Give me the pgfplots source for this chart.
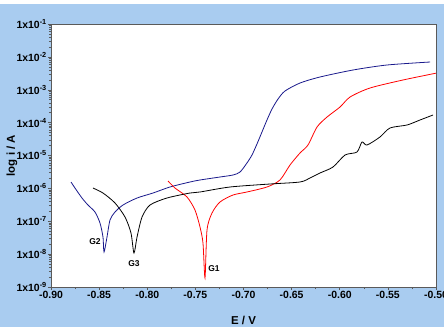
\documentclass[border=0pt]{standalone}
\usepackage{pgfplots}
\pgfplotsset{compat=1.18}
\usepackage{fontspec}
\setmainfont{Liberation Sans}
\definecolor{bgblue}{RGB}{169,204,240}
\definecolor{gblue}{RGB}{25,25,140}
\definecolor{frame}{RGB}{90,90,90}
\begin{document}
\begin{tikzpicture}
\fill[white] (-51bp,-40bp) rectangle (393bp,287bp);
\fill[bgblue] (-51bp,-40bp) rectangle (393bp,283bp);
\begin{axis}[
  at={(0,0)}, anchor=south west,
  scale only axis, width=385bp, height=263bp,
  xmin=-0.90, xmax=-0.50, ymin=-9, ymax=-1,
  axis background/.style={fill=white},
  axis line style={frame, line width=0.8pt},
  tick align=outside, xtick pos=bottom, ytick pos=left,
  major tick length=3bp, minor tick length=2bp,
  every tick/.style={frame, line width=0.5pt},
  xtick={-0.90,-0.85,...,-0.50},
  minor xtick={-0.875,-0.825,-0.775,-0.725,-0.675,-0.625,-0.575,-0.525},
  ytick={-9,-8,...,-1},
  yticklabels={1x10\textsuperscript{-9},1x10\textsuperscript{-8},1x10\textsuperscript{-7},1x10\textsuperscript{-6},1x10\textsuperscript{-5},1x10\textsuperscript{-4},1x10\textsuperscript{-3},1x10\textsuperscript{-2},1x10\textsuperscript{-1}},
  minor ytick={-8.699,-8.523,-8.398,-8.301,-8.222,-8.155,-8.097,-8.046,
               -7.699,-7.523,-7.398,-7.301,-7.222,-7.155,-7.097,-7.046,
               -6.699,-6.523,-6.398,-6.301,-6.222,-6.155,-6.097,-6.046,
               -5.699,-5.523,-5.398,-5.301,-5.222,-5.155,-5.097,-5.046,
               -4.699,-4.523,-4.398,-4.301,-4.222,-4.155,-4.097,-4.046,
               -3.699,-3.523,-3.398,-3.301,-3.222,-3.155,-3.097,-3.046,
               -2.699,-2.523,-2.398,-2.301,-2.222,-2.155,-2.097,-2.046,
               -1.699,-1.523,-1.398,-1.301,-1.222,-1.155,-1.097,-1.046},
  /pgf/number format/assume math mode=true,
  xticklabel style={/pgf/number format/fixed, /pgf/number format/fixed zerofill, /pgf/number format/precision=2, font=\fontsize{10.5}{12}\selectfont\bfseries, inner sep=1.5pt},
  yticklabel style={font=\fontsize{10.5}{12}\selectfont\bfseries, inner sep=1pt},
  xlabel={E / V}, ylabel={log i / A},
  xlabel style={at={(axis description cs:0.5,-0.1255)}, anchor=center, font=\fontsize{11.5}{13}\selectfont\bfseries},
  ylabel style={at={(axis description cs:-0.1013,0.5)}, anchor=center, font=\fontsize{11.5}{13}\selectfont\bfseries},
  clip=true,
]
% G2 (blue)
\addplot[gblue, line width=0.8pt, smooth, tension=0.45] coordinates {
(-0.8792,-5.806) (-0.8751,-5.989) (-0.8678,-6.293) (-0.8616,-6.506) (-0.8543,-6.719)
(-0.8491,-7.053) (-0.8460,-7.479) (-0.8449,-7.935) (-0.8418,-7.479) (-0.8387,-6.962)
(-0.8335,-6.719) (-0.8252,-6.506) (-0.8106,-6.293) (-0.7940,-6.141) (-0.7764,-5.958)
(-0.7556,-5.806) (-0.7452,-5.745) (-0.7244,-5.654) (-0.7109,-5.593) (-0.7036,-5.502)
(-0.6964,-5.228) (-0.6912,-4.985) (-0.6860,-4.650) (-0.6808,-4.285) (-0.6756,-3.920)
(-0.6704,-3.586) (-0.6641,-3.281) (-0.6569,-3.038)
(-0.6413,-2.795) (-0.6205,-2.612) (-0.5862,-2.399) (-0.5509,-2.247) (-0.5062,-2.156)
};
% G1 (red)
\addplot[red, line width=0.8pt, smooth, tension=0.45] coordinates {
(-0.7784,-5.776) (-0.7712,-5.989) (-0.7587,-6.262) (-0.7504,-6.658) (-0.7452,-7.175)
(-0.7421,-7.662) (-0.7400,-8.726) (-0.7379,-7.266) (-0.7327,-6.749) (-0.7244,-6.414)
(-0.7109,-6.202) (-0.6964,-6.110) (-0.6756,-5.958) (-0.6621,-5.745) (-0.6517,-5.290)
(-0.6413,-4.924) (-0.6330,-4.681) (-0.6236,-4.133) (-0.6132,-3.829) (-0.5997,-3.525)
(-0.5893,-3.221) (-0.5686,-2.947) (-0.5343,-2.703) (-0.4990,-2.490)
};
% G3 (black)
\addplot[black, line width=0.8pt, smooth, tension=0.45] coordinates {
(-0.8564,-5.989) (-0.8460,-6.141) (-0.8335,-6.445) (-0.8231,-6.871) (-0.8169,-7.357)
(-0.8138,-7.966) (-0.8106,-7.479) (-0.8054,-6.871) (-0.7971,-6.506) (-0.7795,-6.293)
(-0.7556,-6.141) (-0.7452,-6.110) (-0.7140,-5.958) (-0.6725,-5.867) (-0.6413,-5.806)
(-0.6309,-5.684) (-0.6205,-5.532) (-0.6070,-5.350) (-0.5945,-4.985) (-0.5821,-4.894)
(-0.5769,-4.589) (-0.5717,-4.681) (-0.5582,-4.437) (-0.5478,-4.163) (-0.5301,-4.072)
(-0.5166,-3.920) (-0.5031,-3.768)
};
\node[font=\fontsize{8.5}{10}\selectfont\bfseries] at (axis cs:-0.8543,-7.63) {G2};
\node[font=\fontsize{8.5}{10}\selectfont\bfseries] at (axis cs:-0.8138,-8.30) {G3};
\node[font=\fontsize{8.5}{10}\selectfont\bfseries] at (axis cs:-0.7306,-8.45) {G1};
\end{axis}
\pgfresetboundingbox
\useasboundingbox (-51bp,-40bp) rectangle (393bp,287bp);
\end{tikzpicture}
\end{document}
